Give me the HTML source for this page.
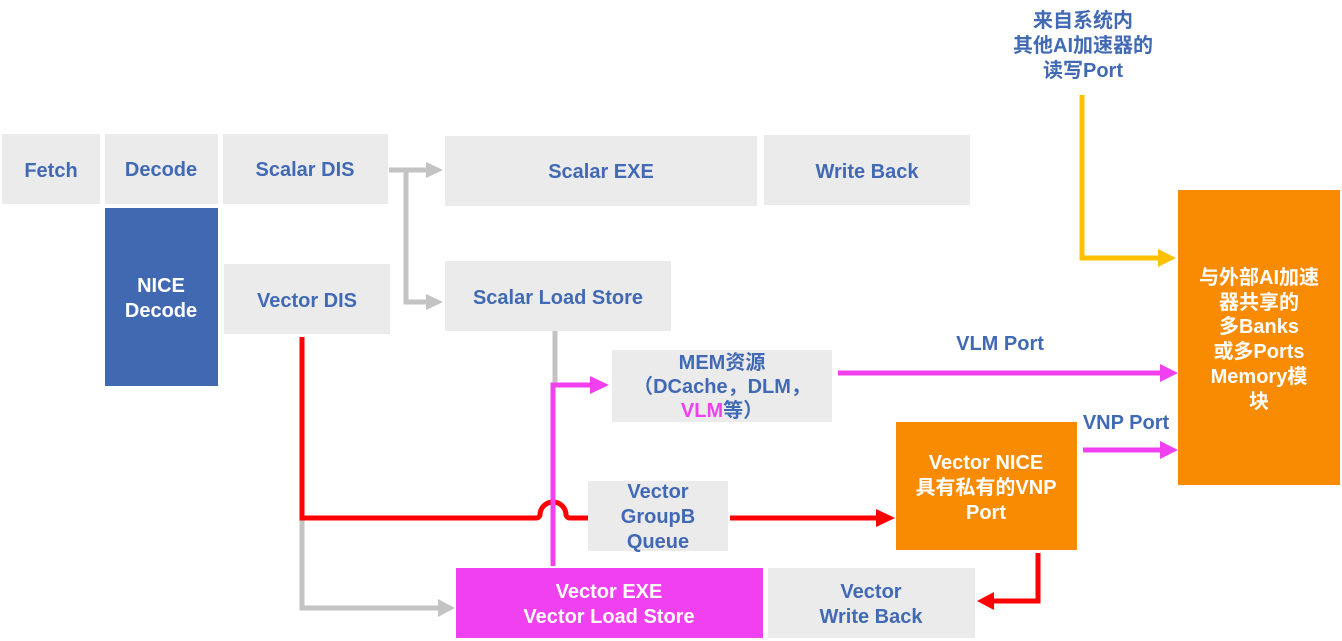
<!DOCTYPE html>
<html><head><meta charset="utf-8"><style>
html,body{margin:0;padding:0;background:#fff;}
svg{display:block;}
text{font-family:"Liberation Sans","Noto Sans CJK SC",sans-serif;font-weight:bold;font-size:20px;text-anchor:middle;}
.b{fill:#4169b4;}
.w{fill:#fff;}
.g{fill:#ebebeb;}
</style></head><body>
<svg width="1342" height="641" viewBox="0 0 1342 641" xmlns="http://www.w3.org/2000/svg">
<!-- boxes -->
<rect class="g" x="2" y="134" width="98" height="70"/>
<rect class="g" x="105" y="134" width="113" height="70"/>
<rect class="g" x="223" y="134" width="165" height="70"/>
<rect class="g" x="445" y="136" width="312" height="70"/>
<rect class="g" x="764" y="135" width="206" height="70"/>
<rect x="105" y="208" width="113" height="178" fill="#4169b2"/>
<rect class="g" x="224" y="264" width="166" height="70"/>
<rect class="g" x="445" y="261" width="226" height="70"/>
<rect class="g" x="612" y="350" width="220" height="72"/>
<rect class="g" x="588" y="481" width="140" height="70"/>
<rect x="896" y="422" width="181" height="128" fill="#f98b03"/>
<rect x="1178" y="190" width="162" height="295" fill="#f98b03"/>
<rect x="456" y="568" width="307" height="70" fill="#f040f0"/>
<rect class="g" x="768" y="568" width="207" height="70"/>

<!-- gray connectors -->
<g stroke="#c3c3c3" stroke-width="5" fill="none">
<path d="M389 170 H428"/>
<path d="M406 170 V302 H428"/>
<path d="M555 331 V385"/>
<path d="M302 518 V608 H440"/>
</g>
<g fill="#c3c3c3">
<polygon points="426,162 443,170 426,178"/>
<polygon points="426,294 443,302 426,310"/>
<polygon points="438,599 455,608 438,617"/>
</g>

<!-- red connectors -->
<g stroke="#ff0000" stroke-width="5" fill="none">
<path d="M302 337 V518 H500"/>
<path d="M500 518 H505"/>
<path d="M302 518 H502 M502 518 H503"/>
<path d="M302 518 H536 A4 4 0 0 0 540 515 A13 13 0 0 1 566 515 A4 4 0 0 0 570 518 H588"/>
<path d="M730 518 H878"/>
<path d="M1038 553 V601 H992"/>
</g>
<g fill="#ff0000">
<polygon points="876,509 895,518 876,527"/>
<polygon points="994,592 977,601 994,610"/>
</g>

<!-- magenta connectors -->
<g stroke="#f040f0" stroke-width="5" fill="none">
<path d="M553 566 V385 H592"/>
<path d="M838 373 H1162"/>
<path d="M1083 450 H1162"/>
</g>
<g fill="#f040f0">
<polygon points="590,376 609,385 590,394"/>
<polygon points="1160,364 1178,373 1160,382"/>
<polygon points="1160,441 1178,450 1160,459"/>
</g>

<!-- yellow -->
<path d="M1082 95 V258 H1160" stroke="#ffc000" stroke-width="5" fill="none"/>
<polygon points="1158,249 1176,258 1158,267" fill="#ffc000"/>

<!-- labels -->
<text class="b" x="51" y="177">Fetch</text>
<text class="b" x="161" y="176">Decode</text>
<text class="b" x="305" y="176">Scalar DIS</text>
<text class="b" x="601" y="178">Scalar EXE</text>
<text class="b" x="867" y="178">Write Back</text>
<text class="w" x="161" y="292">NICE</text>
<text class="w" x="161" y="317">Decode</text>
<text class="b" x="307" y="307">Vector DIS</text>
<text class="b" x="558" y="304">Scalar Load Store</text>
<text class="b" x="722" y="369">MEM资源</text>
<text class="b" x="722" y="393">（DCache，DLM，</text>
<text class="b" x="722" y="417"><tspan fill="#f040f0">VLM</tspan>等）</text>
<text class="b" x="658" y="498">Vector</text>
<text class="b" x="658" y="523">GroupB</text>
<text class="b" x="658" y="548">Queue</text>
<text class="w" x="986" y="469">Vector NICE</text>
<text class="w" x="986" y="494">具有私有的VNP</text>
<text class="w" x="986" y="519">Port</text>
<text class="w" x="1259" y="284">与外部AI加速</text>
<text class="w" x="1259" y="309">器共享的</text>
<text class="w" x="1259" y="333">多Banks</text>
<text class="w" x="1259" y="358">或多Ports</text>
<text class="w" x="1259" y="383">Memory模</text>
<text class="w" x="1259" y="408">块</text>
<text class="w" x="609" y="598">Vector EXE</text>
<text class="w" x="609" y="623">Vector Load Store</text>
<text class="b" x="871" y="598">Vector</text>
<text class="b" x="871" y="623">Write Back</text>
<text class="b" x="1000" y="350">VLM Port</text>
<text class="b" x="1126" y="429">VNP Port</text>
<text class="b" x="1083" y="27">来自系统内</text>
<text class="b" x="1083" y="52">其他AI加速器的</text>
<text class="b" x="1083" y="77">读写Port</text>
</svg>
</body></html>
